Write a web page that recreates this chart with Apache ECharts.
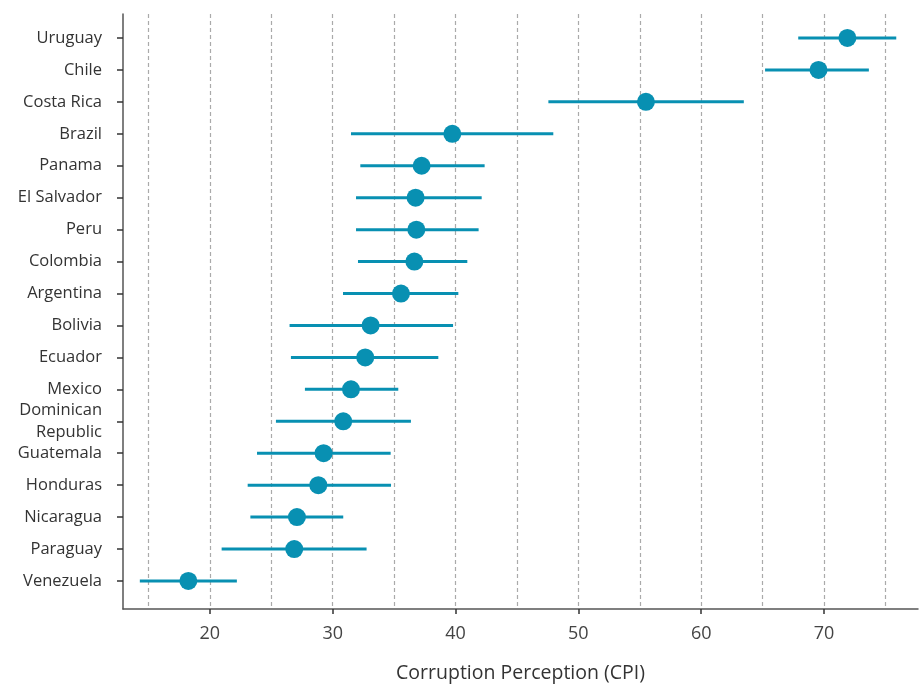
<!DOCTYPE html>
<html>
<head>
<meta charset="utf-8">
<script src="https://cdn.jsdelivr.net/npm/echarts@6/dist/echarts.min.js"></script>
<style>html,body{margin:0;padding:0;background:#fff}#c{width:923px;height:688px}</style>
</head>
<body>
<div id="c"></div>
<script>
const countries = ["Uruguay","Chile","Costa Rica","Brazil","Panama","El Salvador","Peru","Colombia","Argentina","Bolivia","Ecuador","Mexico","Dominican\nRepublic","Guatemala","Honduras","Nicaragua","Paraguay","Venezuela"];
const cpi   = [71.9, 69.55, 55.5, 39.74, 37.24, 36.75, 36.81, 36.65, 35.56, 33.09, 32.65, 31.49, 30.86, 29.26, 28.83, 27.09, 26.87, 18.25];
const lower = [67.9, 65.2, 47.56, 31.49, 32.25, 31.9, 31.9, 32.06, 30.84, 26.49, 26.6, 27.74, 25.38, 23.84, 23.08, 23.3, 20.96, 14.3];
const upper = [75.88, 73.65, 63.47, 47.96, 42.37, 42.13, 41.88, 40.96, 40.23, 39.8, 38.6, 35.34, 36.37, 34.72, 34.75, 30.86, 32.76, 22.2];
const xLabels = [20, 30, 40, 50, 60, 70];
const xGrid = [15, 20, 25, 30, 35, 40, 45, 50, 55, 60, 65, 70, 75];

const color = '#0890b2';
const idx = countries.map((_, i) => i);
const chart = echarts.init(document.getElementById('c'), null, {renderer: 'canvas'});
chart.setOption({
  animation: false,
  textStyle: {fontFamily: 'Open Sans'},
  grid: {left: 123, right: 5, top: 14, bottom: 79, containLabel: false, outerBoundsMode: 'none'},
  xAxis: {
    type: 'value', min: 12.93, max: 77.65,
    name: 'Corruption Perception (CPI)', nameLocation: 'middle', nameGap: 54,
    nameTextStyle: {fontSize: 19.5, color: '#333', fontFamily: 'Open Sans'},
    axisLine: {show: true, onZero: false, lineStyle: {color: '#555', width: 1.5}},
    axisTick: {show: true, length: 5, customValues: xLabels, lineStyle: {color: '#333', width: 1.5}},
    axisLabel: {customValues: xLabels, fontSize: 18, color: '#444', margin: 16, fontFamily: 'Open Sans'},
    splitLine: {show: false}
  },
  yAxis: {
    type: 'value', inverse: true, min: -0.751, max: 17.877,
    axisLine: {show: true, onZero: false, lineStyle: {color: '#555', width: 1.5}},
    axisTick: {show: true, length: 6, customValues: idx, lineStyle: {color: '#333', width: 1.5}},
    axisLabel: {customValues: idx, fontSize: 16.5, color: '#333', margin: 21, align: 'right',
      lineHeight: 22, fontFamily: 'Open Sans',
      formatter: v => countries[Math.round(v)] || ''},
    splitLine: {show: false}
  },
  series: [
    {
      type: 'custom',
      silent: true,
      data: idx.map(i => [lower[i], upper[i], i]),
      renderItem: (params, api) => {
        const a = api.coord([api.value(0), api.value(2)]);
        const b = api.coord([api.value(1), api.value(2)]);
        return {type: 'line', shape: {x1: a[0], y1: a[1], x2: b[0], y2: b[1]},
          style: {stroke: color, lineWidth: 3}};
      },
      encode: {x: [0, 1], y: 2},
      z: 3,
      markLine: {
        silent: true, symbol: 'none', label: {show: false},
        lineStyle: {color: '#aaa', type: [4, 3], width: 1.2},
        data: xGrid.map(v => ({xAxis: v})),
        z: 1
      }
    },
    {
      type: 'scatter',
      silent: true,
      symbolSize: 18,
      itemStyle: {color: color, opacity: 1},
      data: idx.map(i => [cpi[i], i]),
      z: 4
    }
  ]
});
</script>
</body>
</html>
